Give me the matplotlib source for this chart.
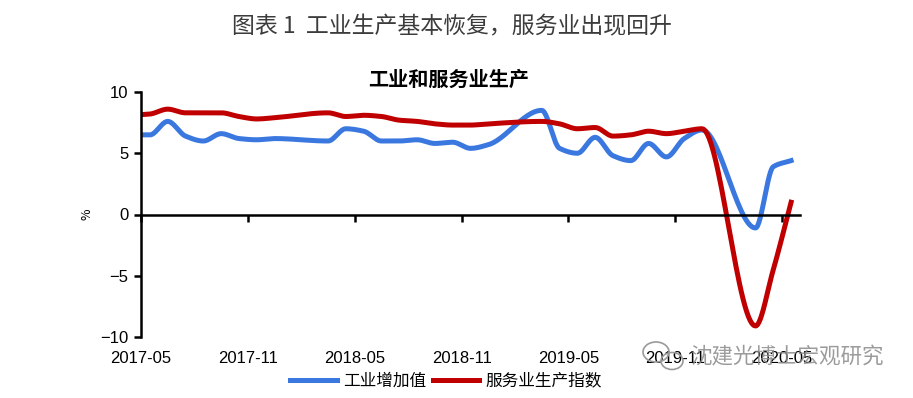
import numpy as np
import matplotlib
matplotlib.use('Agg')
import matplotlib.pyplot as plt
from matplotlib.transforms import ScaledTranslation
from matplotlib.patches import Ellipse

plt.rcParams['font.family'] = ['Liberation Sans', 'Noto Sans CJK SC', 'DejaVu Sans']

# monthly data, Jan/Feb not published separately
months = ['2017-04', '2017-05', '2017-06', '2017-07', '2017-08', '2017-09',
          '2017-10', '2017-11', '2017-12',
          '2018-03', '2018-04', '2018-05', '2018-06', '2018-07', '2018-08',
          '2018-09', '2018-10', '2018-11', '2018-12',
          '2019-03', '2019-04', '2019-05', '2019-06', '2019-07', '2019-08',
          '2019-09', '2019-10', '2019-11', '2019-12',
          '2020-03', '2020-04', '2020-05']
industry = [6.5, 6.5, 7.6, 6.4, 6.0, 6.6, 6.2, 6.1, 6.2,
            6.0, 7.0, 6.8, 6.0, 6.0, 6.1, 5.8, 5.9, 5.4, 5.7,
            8.5, 5.4, 5.0, 6.3, 4.8, 4.4, 5.8, 4.7, 6.2, 6.9,
            -1.1, 3.9, 4.4]
services = [8.1, 8.2, 8.6, 8.3, 8.3, 8.3, 8.0, 7.8, 7.9,
            8.3, 8.0, 8.1, 8.0, 7.7, 7.6, 7.4, 7.3, 7.3, 7.4,
            7.6, 7.4, 7.0, 7.1, 6.4, 6.5, 6.8, 6.6, 6.8, 7.0,
            -9.1, -4.5, 1.0]
tick_labels = ['2017-05', '2017-11', '2018-05', '2018-11',
               '2019-05', '2019-11', '2020-05']


def month_pos(m):
    # months since 2017-05, plotted mid-month
    y, mo = m.split('-')
    return (int(y) - 2017) * 12 + int(mo) - 5 + 0.5


def smooth(x, y, n=30):
    # monotone cubic (fritsch-carlson) curve through the points
    x = np.asarray(x, float)
    y = np.asarray(y, float)
    h = np.diff(x)
    d = np.diff(y) / h
    m = np.zeros_like(y)
    m[0], m[-1] = d[0], d[-1]
    for i in range(1, len(y) - 1):
        if d[i - 1] * d[i] > 0:
            w1 = 2 * h[i] + h[i - 1]
            w2 = h[i] + 2 * h[i - 1]
            m[i] = (w1 + w2) / (w1 / d[i - 1] + w2 / d[i])
    xs, ys = [], []
    t = np.linspace(0, 1, n, endpoint=False)
    for i in range(len(x) - 1):
        h00 = 2 * t ** 3 - 3 * t ** 2 + 1
        h10 = t ** 3 - 2 * t ** 2 + t
        h01 = -2 * t ** 3 + 3 * t ** 2
        h11 = t ** 3 - t ** 2
        xs.extend(x[i] + t * h[i])
        ys.extend(h00 * y[i] + h10 * h[i] * m[i] + h01 * y[i + 1]
                  + h11 * h[i] * m[i + 1])
    xs.append(x[-1])
    ys.append(y[-1])
    return np.array(xs), np.array(ys)


x = [month_pos(m) for m in months]

fig = plt.figure(figsize=(9.13, 3.98), dpi=100)
ax = fig.add_axes([141 / 913, 1 - 337 / 398, 659 / 913, 245 / 398])

sx, sy = smooth(x, industry)
ax.plot(sx, sy, '-', color='#3A78E0', linewidth=3.6, label='工业增加值')
sx, sy = smooth(x, services)
ax.plot(sx, sy, '-', color='#C00000', linewidth=3.6, label='服务业生产指数')

ax.set_xlim(0, 37)
ax.set_ylim(-10, 10)
ax.set_yticks([-10, -5, 0, 5, 10])
ax.set_xticks(range(0, 37, 6))
ax.set_xticklabels(tick_labels)
for lab in ax.get_xticklabels():
    lab.set_transform(lab.get_transform()
                      + ScaledTranslation(0.07, 0, fig.dpi_scale_trans))

ax.spines['top'].set_visible(False)
ax.spines['right'].set_visible(False)
ax.spines['bottom'].set_position(('data', 0))
ax.spines['left'].set_linewidth(1.8)
ax.spines['bottom'].set_linewidth(1.8)
ax.tick_params(axis='y', direction='out', length=5, width=1.8, pad=4,
               labelsize=12)
ax.tick_params(axis='x', direction='out', length=5, width=1.8, pad=93,
               labelsize=12)

ax.set_ylabel('%', fontsize=9, fontfamily='Noto Sans CJK SC')
ax.yaxis.set_label_coords(-0.072, 0.5)

cjk = ['Noto Sans CJK SC', 'DejaVu Sans']
fig.text(452 / 913, 1 - 27 / 398, '图表 1  工业生产基本恢复，服务业出现回升',
         ha='center', va='center', fontsize=16.5, color='#3c3c3c', family=cjk)
fig.text(449 / 913, 1 - 79 / 398, '工业和服务业生产', ha='center',
         va='center', fontsize=14.5, fontweight='bold', family=cjk)

fig.legend(loc='center', bbox_to_anchor=(446 / 913, 1 - 381 / 398),
           ncol=2, frameon=False, handlelength=2.8, handletextpad=0.35,
           columnspacing=0.4, prop={'family': 'Noto Sans CJK SC', 'size': 12})

# watermark
for cx, cy, w, hh in [(656, 352, 26, 20), (672, 361, 22, 17)]:
    fig.patches.append(Ellipse((cx / 913, 1 - cy / 398), w / 913, hh / 398,
                               transform=fig.transFigure, fill=False,
                               edgecolor='#9a9a9a', linewidth=1.2))
fig.text(884 / 913, 1 - 357 / 398, '沈建光博士宏观研究', ha='right',
         va='center', fontsize=15.5, color='#8a8a8a', alpha=0.85, family=cjk)

fig.savefig('out.png', dpi=100)
